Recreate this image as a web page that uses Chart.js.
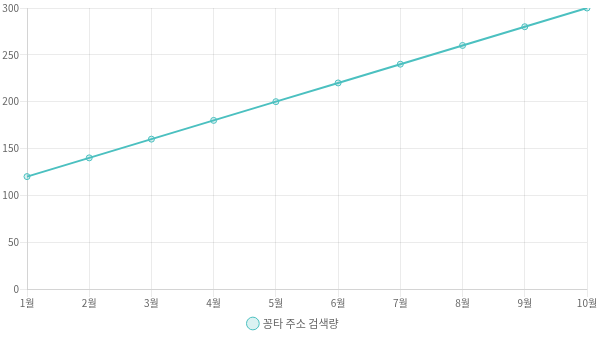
<!DOCTYPE html>
<html>
<head>
    <meta charset="UTF-8">
    <title>꽁타 주소 검색량</title>
    <script src="https://cdn.jsdelivr.net/npm/chart.js@4.4.0/dist/chart.umd.min.js"></script>
    <style>
        html, body { margin: 0; padding: 0; background: #fff; }
        #wrap { width: 600px; height: 339px; }
    </style>
</head>
<body>
    <div id="wrap"><canvas id="myChart"></canvas></div>

    <script>
        // 월별 라벨과 검색량
        const months = ["1월", "2월", "3월", "4월", "5월", "6월", "7월", "8월", "9월", "10월"];
        const searchCount = [120, 140, 160, 180, 200, 220, 240, 260, 280, 300];
        const seriesName = "꽁타 주소 검색량";

        Chart.defaults.font.family = "'Noto Sans CJK KR', 'Noto Sans', sans-serif";
        Chart.defaults.font.size = 10;
        Chart.defaults.color = '#666';

        const ctx = document.getElementById('myChart').getContext('2d');
        const myChart = new Chart(ctx, {
            type: 'line',
            data: {
                labels: months,
                datasets: [{
                    label: seriesName,
                    data: searchCount,
                    borderColor: 'rgb(75,192,192)',
                    backgroundColor: 'rgba(75,192,192,0.2)',
                    borderWidth: 2,
                    pointRadius: 3,
                    pointBorderWidth: 1,
                    fill: false,
                    tension: 0
                }]
            },
            options: {
                responsive: true,
                maintainAspectRatio: false,
                animation: false,
                layout: { padding: { top: 8, right: 13, bottom: 0 } },
                plugins: {
                    legend: {
                        position: 'bottom',
                        labels: {
                            usePointStyle: true,
                            pointStyle: 'circle',
                            boxWidth: 9,
                            boxHeight: 9,
                            padding: 8,
                            font: { size: 11, lineHeight: 1.1 }
                        }
                    }
                },
                scales: {
                    x: {
                        ticks: { padding: 1, font: { lineHeight: 1.1 } },
                        grid: { color: 'rgba(0,0,0,0.08)' }
                    },
                    y: {
                        min: 0,
                        max: 300,
                        ticks: { stepSize: 50, padding: 1 },
                        grid: { color: 'rgba(0,0,0,0.08)', tickLength: 7 },
                        afterFit: function (axis) { axis.width = 27; }
                    }
                }
            }
        });
    </script>
</body>
</html>
